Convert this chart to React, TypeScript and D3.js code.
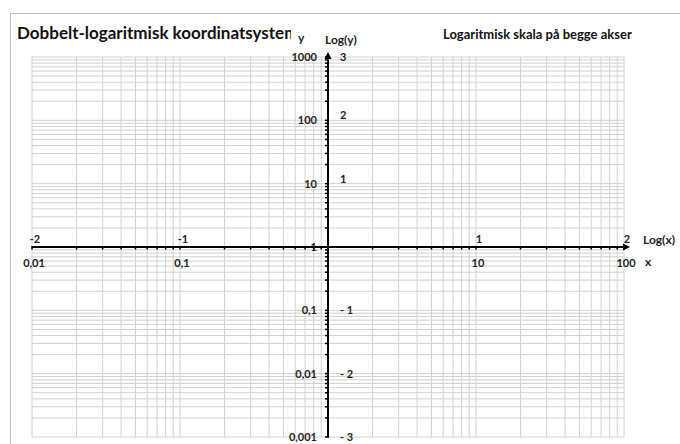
import React from "react";
import * as d3 from "d3";

const xDomain: [number, number] = [0.01, 100];
const yDomain: [number, number] = [0.001, 1000];
const xValueLabels = [
  { v: 0.01, t: "0,01" },
  { v: 0.1, t: "0,1" },
  { v: 10, t: "10" },
  { v: 100, t: "100" },
];
const xLogLabels = [
  { v: 0.01, t: "-2" },
  { v: 0.1, t: "-1" },
  { v: 10, t: "1" },
  { v: 100, t: "2" },
];
const yValueLabels = [
  { v: 1000, t: "1000" },
  { v: 100, t: "100" },
  { v: 10, t: "10" },
  { v: 1, t: "1" },
  { v: 0.1, t: "0,1" },
  { v: 0.01, t: "0,01" },
  { v: 0.001, t: "0,001" },
];
const yLogLabels = [
  { v: 1000, t: "3" },
  { v: 100, t: "2" },
  { v: 10, t: "1" },
  { v: 0.1, t: "- 1" },
  { v: 0.01, t: "- 2" },
  { v: 0.001, t: "- 3" },
];
const title = "Dobbelt-logaritmisk koordinatsystem";
const subtitle = "Logaritmisk skala på begge akser";

const W = 680;
const H = 444;
const FONT = "Lato, 'Open Sans', sans-serif";

export default function App() {
  const x = d3.scaleLog().domain(xDomain).range([32, 624]);
  const y = d3.scaleLog().domain(yDomain).range([437, 57]);
  const xTicks = x.ticks();
  const yTicks = y.ticks();
  const x0 = x(1);
  const y0 = y(1);
  const grid = "#d0d0d0";
  return (
    <svg width={W} height={H} style={{ position: "absolute", left: 0, top: 0, background: "#fff" }}>
      <defs>
        <clipPath id="titleClip">
          <rect x={0} y={0} width={291} height={60} />
        </clipPath>
      </defs>
      <rect x={10.5} y={13.5} width={700} height={460} fill="#fff" stroke="#bdbdbd" strokeWidth={1} />
      {yTicks.map((v, i) => (
        <line key={"gy" + i} x1={x(xDomain[0])} x2={x(xDomain[1])} y1={y(v)} y2={y(v)} stroke={grid} strokeWidth={1} />
      ))}
      {xTicks.map((v, i) => (
        <line key={"gx" + i} x1={x(v)} x2={x(v)} y1={y(yDomain[0])} y2={y(yDomain[1])} stroke={grid} strokeWidth={1} />
      ))}
      {/* x axis */}
      <line x1={x(xDomain[0])} x2={x(xDomain[1]) + 4} y1={y0} y2={y0} stroke="#000" strokeWidth={2} />
      <path d={`M${x(xDomain[1]) + 6},${y0} l-7,-3.5 l0,7 z`} fill="#000" />
      {xTicks.map((v, i) => (
        <line key={"tx" + i} x1={x(v)} x2={x(v)} y1={y0 - 1} y2={y0 + 2.5} stroke="#000" strokeWidth={1.5} />
      ))}
      {/* y axis */}
      <line x1={x0} x2={x0} y1={y(yDomain[0])} y2={y(yDomain[1]) - 3} stroke="#000" strokeWidth={2} />
      <path d={`M${x0},${y(yDomain[1]) - 5} l-3.5,7 l7,0 z`} fill="#000" />
      {yTicks.map((v, i) => (
        <line key={"ty" + i} x1={x0 - 3} x2={x0 + 1} y1={y(v)} y2={y(v)} stroke="#000" strokeWidth={1.5} />
      ))}
      {xValueLabels.map((d, i) => (
        <text key={"xl" + i} x={x(d.v) + 2} y={y0 + 20} textAnchor="middle" fontFamily={FONT} fontWeight="bold" fontSize={11} fill="#222">
          {d.t}
        </text>
      ))}
      {xLogLabels.map((d, i) => (
        <text key={"xg" + i} x={x(d.v) + 3} y={y0 - 4} textAnchor="middle" fontFamily={FONT} fontWeight="bold" fontSize={11} fill="#222">
          {d.t}
        </text>
      ))}
      {yValueLabels.map((d, i) => (
        <text key={"yl" + i} x={x0 - 11} y={y(d.v) + 4} textAnchor="end" fontFamily={FONT} fontWeight="bold" fontSize={11} fill="#222">
          {d.t}
        </text>
      ))}
      {yLogLabels.map((d, i) => (
        <text key={"yg" + i} x={x0 + 12} y={y(d.v) + (d.v === 1000 ? 4 : d.v > 1 ? -1 : 4)} textAnchor="start" fontFamily={FONT} fontWeight="bold" fontSize={11} fill="#222">
          {d.t}
        </text>
      ))}
      <text x={643} y={y0 - 3} fontFamily={FONT} fontWeight="bold" fontSize={12} fill="#222">Log(x)</text>
      <text x={645} y={y0 + 19} fontFamily={FONT} fontWeight="bold" fontSize={12} fill="#222">x</text>
      <text x={298} y={42} fontFamily={FONT} fontWeight="bold" fontSize={12} fill="#222">y</text>
      <text x={325} y={44} fontFamily={FONT} fontWeight="bold" fontSize={12} fill="#222">Log(y)</text>
      <text x={17} y={39} fontFamily={FONT} fontWeight="bold" fontSize={17} fill="#111" clipPath="url(#titleClip)">{title}</text>
      <text x={443} y={39} fontFamily={FONT} fontWeight="bold" fontSize={13} fill="#111">{subtitle}</text>
    </svg>
  );
}
